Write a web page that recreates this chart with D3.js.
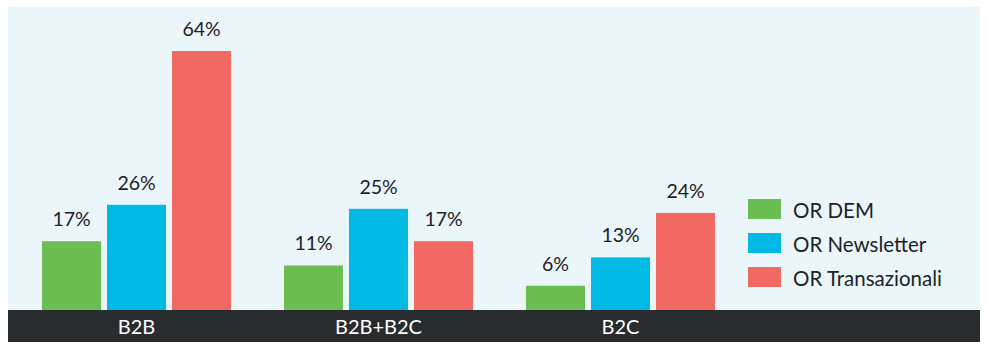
<!DOCTYPE html>
<html><head><meta charset="utf-8">
<script src="https://cdn.jsdelivr.net/npm/d3@7"></script>
<style>body{margin:0;background:#fff}svg{display:block}text{font-family:Lato,"Open Sans",sans-serif}</style>
</head><body>
<script>
const categories = ["B2B", "B2B+B2C", "B2C"];
const seriesNames = ["OR DEM", "OR Newsletter", "OR Transazionali"];
const orDEM = [17, 11, 6];
const orNewsletter = [26, 25, 13];
const orTransazionali = [64, 17, 24];
const colors = ["#6dbe52", "#00b9e4", "#f26862"];

const seriesValues = [orDEM, orNewsletter, orTransazionali];
const W = 989, H = 351;
const svg = d3.select("body").append("svg").attr("width", W).attr("height", H);

const panel = {x0: 8, x1: 980, y0: 7, base: 310, band: 342};
svg.append("rect").attr("x", panel.x0).attr("y", panel.y0)
  .attr("width", panel.x1 - panel.x0).attr("height", panel.base - panel.y0).attr("fill", "#ebf6fb");
svg.append("rect").attr("x", panel.x0).attr("y", panel.base)
  .attr("width", panel.x1 - panel.x0).attr("height", panel.band - panel.base).attr("fill", "#292c2f");

const x0 = d3.scaleBand().domain(categories).range([15.5, 741.5])
  .paddingInner(53/242).paddingOuter(0.5*53/242);
const x1 = d3.scaleBand().domain(seriesNames).range([0, x0.bandwidth()]).paddingInner(6/65);
const y = d3.scaleLinear().domain([0, 64]).range([panel.base, 51]);

const rows = [];
categories.forEach((c, i) => seriesNames.forEach((s, j) => rows.push({c, s, j, v: seriesValues[j][i]})));

const g = svg.append("g");
g.selectAll("rect.bar").data(rows).join("rect").attr("class", "bar")
  .attr("x", d => x0(d.c) + x1(d.s)).attr("width", x1.bandwidth())
  .attr("y", d => y(d.v)).attr("height", d => y(0) - y(d.v))
  .attr("fill", d => colors[d.j]);

g.selectAll("text.val").data(rows).join("text").attr("class", "val")
  .attr("x", d => x0(d.c) + x1(d.s) + x1.bandwidth()/2)
  .attr("y", d => y(d.v) - 15)
  .attr("text-anchor", "middle").attr("font-size", 19.5).attr("fill", "#1e2226")
  .text(d => d.v + "%");

g.selectAll("text.cat").data(categories).join("text").attr("class", "cat")
  .attr("x", d => x0(d) + x0.bandwidth()/2).attr("y", 334)
  .attr("text-anchor", "middle").attr("font-size", 20).attr("fill", "#ffffff")
  .text(d => d);

const leg = svg.append("g").attr("transform", "translate(748,199)");
const li = leg.selectAll("g").data(seriesNames).join("g")
  .attr("transform", (d, i) => `translate(0,${i*34})`);
li.append("rect").attr("width", 33).attr("height", 20).attr("fill", (d, i) => colors[i]);
li.append("text").attr("x", 45).attr("y", 18.5).attr("font-size", 20.5).attr("fill", "#1e2226").text(d => d);
</script>
</body></html>
